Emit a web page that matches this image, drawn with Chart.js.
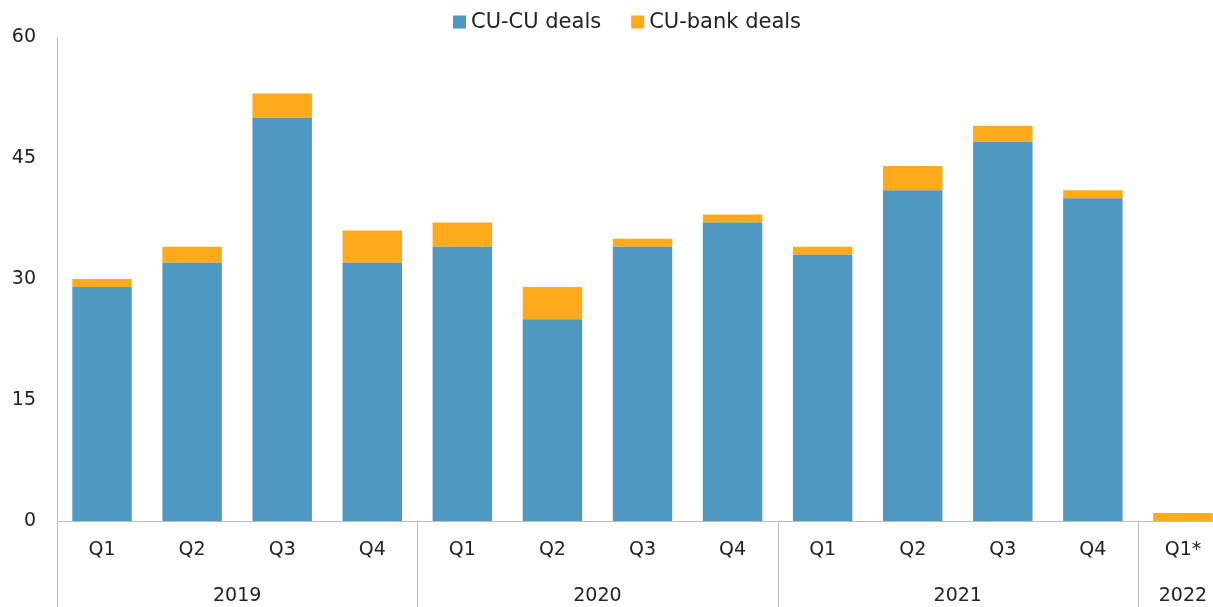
<!DOCTYPE html>
<html>
<head>
<meta charset="utf-8">
<script src="https://cdn.jsdelivr.net/npm/chart.js@4"></script>
<style>
  html, body { margin: 0; padding: 0; background: #fff; overflow: hidden; }
  #wrap { width: 1228px; height: 607px; }
</style>
</head>
<body>
<div id="wrap"><canvas id="dealsChart"></canvas></div>
<script>
// quarter labels and the year each group belongs to
const quarters = ['Q1', 'Q2', 'Q3', 'Q4', 'Q1', 'Q2', 'Q3', 'Q4', 'Q1', 'Q2', 'Q3', 'Q4', 'Q1*'];
const years = ['2019', '2019', '2019', '2019', '2020', '2020', '2020', '2020', '2021', '2021', '2021', '2021', '2022'];

const cuCuDeals = [29, 32, 50, 32, 34, 25, 34, 37, 33, 41, 47, 40, 0];
const cuBankDeals = [1, 2, 3, 4, 3, 4, 1, 1, 1, 3, 2, 1, 1];

const yTicks = [0, 15, 30, 45, 60];

const FONT = '"DejaVu Sans", sans-serif';
const AXIS_COLOR = '#bdbdbd';
const TEXT_COLOR = '#222';

// legend drawn by hand so the plot top stays where it is in the original
const topLegend = {
    id: 'topLegend',
    afterDraw(chart) {
        const ctx = chart.ctx;
        const sets = chart.data.datasets;
        const box = 13, gapText = 5, gapItem = 30, cy = 22;
        ctx.save();
        ctx.font = '21px ' + FONT;
        ctx.textBaseline = 'middle';
        ctx.textAlign = 'left';
        const widths = sets.map(d => box + gapText + ctx.measureText(d.label).width);
        const total = widths.reduce((a, b) => a + b, 0) + gapItem * (sets.length - 1);
        let x = 627 - total / 2;
        sets.forEach((d, i) => {
            ctx.fillStyle = d.backgroundColor;
            ctx.fillRect(x, cy - box / 2, box, box);
            ctx.fillStyle = TEXT_COLOR;
            ctx.fillText(d.label, x + box + gapText, cy + 1);
            x += widths[i] + gapItem;
        });
        ctx.restore();
    }
};

// draws the year row and the group separators below the x axis
const yearGroups = {
    id: 'yearGroups',
    afterDraw(chart) {
        const ctx = chart.ctx;
        const x = chart.scales.x;
        const area = chart.chartArea;
        const bottom = chart.height;
        const half = (x.getPixelForValue(1) - x.getPixelForValue(0)) / 2;

        ctx.save();
        ctx.strokeStyle = AXIS_COLOR;
        ctx.lineWidth = 1;
        ctx.fillStyle = TEXT_COLOR;
        ctx.font = '19px ' + FONT;
        ctx.textAlign = 'center';
        ctx.textBaseline = 'middle';

        let start = 0;
        for (let i = 1; i <= years.length; i++) {
            if (i === years.length || years[i] !== years[start]) {
                const left = x.getPixelForValue(start) - half;
                const right = x.getPixelForValue(i - 1) + half;
                ctx.fillText(years[start], (left + right) / 2, area.bottom + 75);
                if (i < years.length) {
                    const sx = Math.round(right) + 0.5;
                    ctx.beginPath();
                    ctx.moveTo(sx, area.bottom);
                    ctx.lineTo(sx, bottom);
                    ctx.stroke();
                }
                start = i;
            }
        }
        // left axis runs down through the label rows
        const lx = Math.round(area.left) + 0.5;
        ctx.beginPath();
        ctx.moveTo(lx, area.bottom);
        ctx.lineTo(lx, bottom);
        ctx.stroke();
        ctx.restore();
    }
};

const ctx = document.getElementById('dealsChart').getContext('2d');
new Chart(ctx, {
    type: 'bar',
    data: {
        labels: quarters,
        datasets: [
            {
                label: 'CU-CU deals',
                data: cuCuDeals,
                backgroundColor: '#4f98c1'
            },
            {
                label: 'CU-bank deals',
                data: cuBankDeals,
                backgroundColor: '#feaa1b'
            }
        ]
    },
    plugins: [topLegend, yearGroups],
    options: {
        responsive: true,
        maintainAspectRatio: false,
        animation: false,
        layout: { padding: { left: 0, right: 0, top: 37, bottom: 0 } },
        datasets: {
            bar: { categoryPercentage: 1, barPercentage: 0.66 }
        },
        plugins: {
            tooltip: { enabled: false },
            legend: { display: false }
        },
        scales: {
            x: {
                stacked: true,
                grid: { display: false, drawTicks: false },
                border: { color: AXIS_COLOR, width: 1 },
                ticks: {
                    color: TEXT_COLOR,
                    font: { family: FONT, size: 19 },
                    padding: 18,
                    maxRotation: 0,
                    autoSkip: false
                },
                afterFit(scale) { scale.height = 86; }
            },
            y: {
                stacked: true,
                min: 0,
                max: 60,
                afterBuildTicks(scale) {
                    scale.ticks = yTicks.map(v => ({ value: v }));
                },
                grid: { display: false, drawTicks: false },
                border: { color: AXIS_COLOR, width: 1 },
                ticks: {
                    color: TEXT_COLOR,
                    font: { family: FONT, size: 19 },
                    padding: 21
                },
                afterFit(scale) { scale.width = 57; }
            }
        }
    }
});
</script>
</body>
</html>
